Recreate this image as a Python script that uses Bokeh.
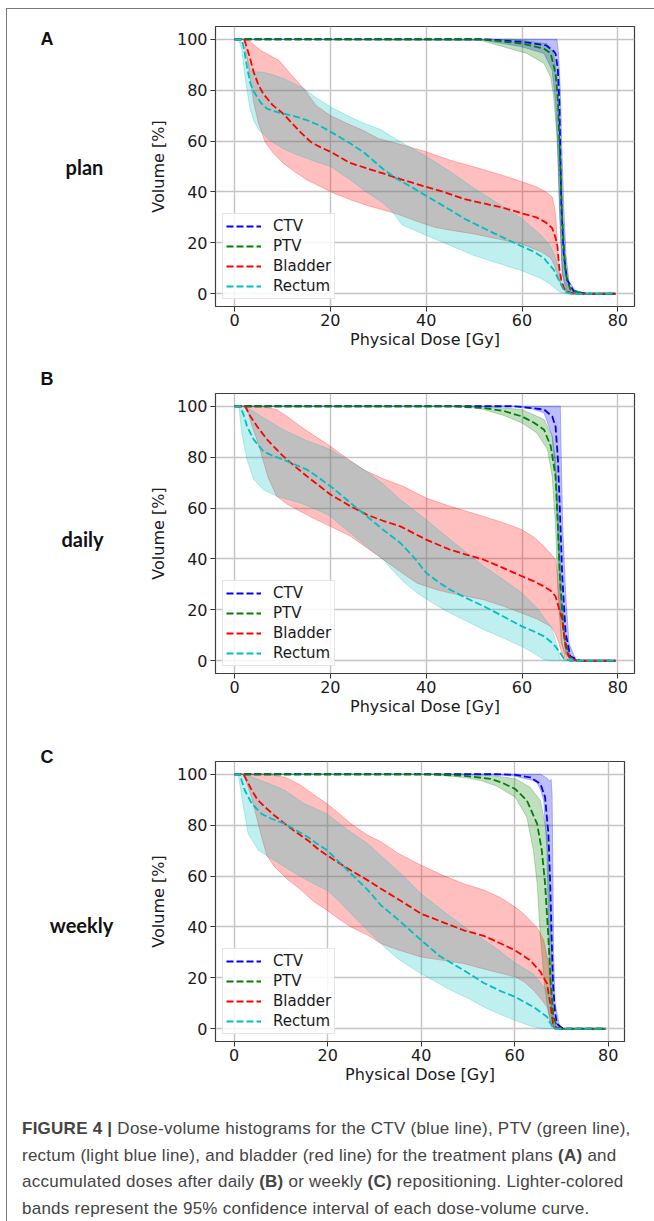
from bokeh.plotting import figure
from bokeh.models import Range1d, FixedTicker, Div
from bokeh.layouts import column, row
from bokeh.core.properties import value
from bokeh.embed import file_html
from bokeh.resources import INLINE

# ---------------- data (dose [Gy], volume [%]) ----------------
X_TICKS = [0, 20, 40, 60, 80]
Y_TICKS = [0, 20, 40, 60, 80, 100]
STRUCTURES = ["CTV", "PTV", "Bladder", "Rectum"]
PANEL_LETTERS = ["A", "B", "C"]
PANEL_NAMES = ["plan", "daily", "weekly"]

# ---- A: plan ----
A_CTV_MEAN = [(0,100),(52,100),(60,99),(65,97.6),(66.5,95.5),(67,94.4),(67.5,87.8),(67.8,74.8),(68,55),(68.2,35.6),(68.7,16),(69.4,5.5),(70.8,1),(73.6,0),(79.5,0)]
A_CTV_HI = [(0,100),(67.3,100),(67.6,95),(68,80),(68.3,58),(68.7,35),(69.2,15),(69.8,5),(71,1.5),(73.5,0),(79.5,0)]
A_CTV_LO = [(0,100),(52,99.6),(60,97),(64.6,94.4),(66.3,87.8),(67,74.8),(67.5,55),(67.9,29),(68.4,8),(69,1.6),(70,0),(79.5,0)]
A_PTV_MEAN = [(0,100),(51.3,100),(60,98.3),(64.6,96.3),(66,94.4),(67,86.5),(67.5,76),(67.8,60),(68.1,45),(68.4,29),(69.1,8),(70.1,1.6),(72.2,0.3),(74,0),(79.5,0)]
A_PTV_HI = [(0,100),(58,100),(60,99.6),(65.2,98.3),(66.6,94.4),(67.3,85),(67.8,65),(68.2,40),(68.7,15),(69.4,4),(70.5,1),(72.5,0),(79.5,0)]
A_PTV_LO = [(0,100),(51.3,99.6),(61,94.4),(64.6,90.5),(66,85),(66.6,77.4),(67.3,61.7),(67.8,35.6),(68.4,8),(69.4,1),(71,0),(79.5,0)]
A_BLA_MEAN = [(0,100),(2,100),(3,94),(4,87),(5,82),(6,78.5),(8,74),(10,71),(12,67),(14,63),(16,59.5),(18,57.5),(20,55.8),(24,51.5),(28,49),(31,47.3),(35,44.8),(40,42),(44,39.8),(48,37.2),(52,35.5),(56,33.8),(60,31.6),(63,30),(65,28),(66.3,25.8),(67,22),(67.4,18.6),(67.8,10),(68.2,5.5),(68.8,2),(69.4,0.9),(70.5,0.2),(72,0),(79.5,0)]
A_BLA_HI = [(0,100),(2.2,100),(3.3,99),(5.4,95.7),(7.5,93.5),(9.2,91.8),(11.6,86.5),(14.4,80.7),(17,74),(20,70),(24,66.5),(27,64),(30,61),(34,59),(40,55.8),(45,52.5),(51,49.3),(56,46.5),(60,44),(63,42),(65,40),(66.3,38),(66.8,34),(67.1,29),(67.4,18),(67.8,8),(68.2,3),(69.4,0),(79.5,0)]
A_BLA_LO = [(0,100),(2,100),(3,88),(4,75),(5,67),(6.4,59.5),(8,55.5),(10.2,51.2),(12.5,48),(15.1,44.7),(17.5,42.5),(20,40.1),(24.2,36.9),(28,34.5),(31.1,32.9),(34,31.3),(38,28.5),(42,26),(45,25),(50,23.5),(55,21.5),(60,19.5),(64,16.5),(66,14),(66.8,11),(67.3,8),(67.8,5),(68.4,2.5),(69.4,0.5),(70,0),(79.5,0)]
A_REC_MEAN = [(0,100),(1.5,100),(2,96),(2.6,89),(3.3,82.6),(4,79.5),(4.7,77.4),(5.5,75),(6.7,72.8),(8,71.8),(10.2,70.8),(13,69.5),(15.1,68.2),(17.5,66.3),(20,63.7),(22,61.5),(24.2,59),(27,55.5),(31,49),(34,45),(37.4,41.4),(40,38.5),(44.4,33.6),(48,29.5),(51.3,26.4),(55,23),(60,18.6),(62.5,16.5),(64.6,14),(65.2,12.5),(66.6,9.5),(67.4,6.5),(68,4.2),(68.7,1.5),(69.4,0.5),(70.5,0),(79.5,0)]
A_REC_HI = [(0,100),(1,100),(2,97),(3.3,88),(4.5,87.2),(6,87),(8,86),(10.2,84.6),(12.5,82.5),(14.4,80.7),(17,77),(20,73.5),(23.5,70),(27,67),(30.5,64.5),(34,60.4),(40,54),(45,48),(50,41.5),(55,35.5),(60,29.5),(64,23),(66,18.5),(66.8,15),(67.7,10),(68.5,4),(69.1,1.5),(70,0),(79.5,0)]
A_REC_LO = [(0,100),(1,99),(1.5,96),(2,88),(2.6,80),(3.2,73),(4,68),(5,64.5),(6,62.7),(7.5,60),(10.2,57),(12.5,55),(15.1,53.2),(17.5,51.5),(20,50),(22,47.5),(24.2,44.7),(27.5,40),(31.1,35.6),(33,32),(35,27),(40,23),(45,19),(50,15),(55,12),(60,9),(62,7.5),(64,6),(66,3.5),(67,2),(68,0.5),(69,0),(79.5,0)]

# ---- B: daily ----
B_CTV_MEAN = [(0,100),(58,100),(60,99.7),(64.6,98.7),(66.3,96),(67,92.1),(67.5,79),(67.9,59.4),(68.4,33.2),(69.1,10.9),(70.1,1.7),(72.2,0),(79.5,0)]
B_CTV_HI = [(0,100),(68,100),(68.2,79),(68.5,52.8),(69.1,26.6),(69.8,7),(71.2,0.4),(72.5,0),(79.5,0)]
B_CTV_LO = [(0,100),(58,100),(62,99),(64.6,97.4),(66.3,88.2),(67,72.5),(67.5,46.3),(68,20),(69.1,3),(70.1,0),(79.5,0)]
B_PTV_MEAN = [(0,100),(45,100),(52,99.3),(56,98.2),(60,96),(62.5,93.5),(64.6,90.8),(66,84.3),(67,72.5),(67.5,52.8),(67.9,33.2),(68.7,10.9),(69.8,1.7),(71.5,0),(79.5,0)]
B_PTV_HI = [(0,100),(52,100),(60,98.7),(64.6,94.8),(66.3,88.2),(67,79),(67.7,52.8),(68.2,26.6),(69.1,7),(70.5,0.4),(72,0),(79.5,0)]
B_PTV_LO = [(0,100),(48.5,100),(52,98.7),(56,96.5),(60,93.4),(63.1,89.5),(65.3,83),(66.3,72.5),(67,52.8),(67.5,26.6),(68.2,7),(69.4,0.4),(70.5,0),(79.5,0)]
B_BLA_MEAN = [(0,100),(2.2,100),(3.3,96),(4.7,92.1),(6.8,86.9),(8.5,83.5),(10.2,80.3),(12.5,76.5),(15.1,72.5),(17.5,69),(20,65.3),(24.2,60.7),(27.6,57.4),(31,55),(34.6,52.8),(40,47.6),(45,43.6),(52,39.7),(56,36.5),(60,33.2),(62.5,31.2),(64.6,29.2),(66,27.5),(67,25.3),(67.8,20),(68.4,16.1),(68.8,10),(69.1,5.6),(69.7,2),(70.5,0.4),(72,0),(79.5,0)]
B_BLA_HI = [(0,100),(5.4,100),(8.8,98.7),(11,96),(13.7,92.1),(17,88),(20,84.3),(23.5,79.5),(27,75),(31,71.5),(35.3,68.5),(40,63.9),(45,60.7),(52,56.7),(56,54.3),(60,51.5),(62.5,48.5),(64.6,44.9),(66,42),(67,39.7),(67.4,34),(67.7,26.6),(68,17),(68.4,7),(69.1,0.4),(70,0),(79.5,0)]
B_BLA_LO = [(0,100),(2.5,100),(3.5,93),(5,85),(7,72),(8.8,64.6),(11,61.5),(13.7,58.7),(17,55.5),(20,52.8),(24.2,48.9),(27.5,44.5),(31.1,39.7),(34.6,35),(38.1,30.5),(42,28),(45,26.6),(52,24),(56,21.5),(60,18.7),(63,16.5),(66,13.5),(67,10.5),(67.7,7),(68.7,0.4),(69.5,0),(79.5,0)]
B_REC_MEAN = [(0,100),(1.2,100),(2,96),(2.6,92.1),(4,86.9),(6,82.3),(8,80.5),(10.2,79),(12.5,77.2),(15.1,75.1),(17.5,72),(20,68.6),(22,65.5),(24.2,62),(27.6,56.8),(31,51.5),(34.6,46.3),(37.5,40.5),(40,34.5),(42.5,31),(45,27.9),(48.5,24.5),(52,21.4),(56,17.5),(60,13.5),(62.5,11.5),(64.6,9.6),(66,7.5),(67,5.6),(68,3),(68.7,1),(70,0),(79.5,0)]
B_REC_HI = [(0,100),(1.5,100),(3.3,98.7),(6,95.5),(10.2,90.8),(15,86.5),(20,83),(24,78.5),(27,75),(31,69.5),(34.6,63.3),(40,55.4),(45,47.6),(52,37.1),(56,32),(60,26.6),(63,21),(66,13.5),(67,8),(68,0.4),(69,0),(79.5,0)]
B_REC_LO = [(0,100),(0.9,100),(1.5,89.5),(2.6,79),(4,71.2),(6,67.2),(8.8,64.6),(11,63.5),(13.7,62),(17,59.5),(20,56.8),(22,53.5),(24.2,50.2),(27.5,45),(31.1,39.7),(33,35.5),(35,31.5),(38.1,26.6),(41.5,22.5),(45,18.7),(48.5,15.5),(52,12.2),(56,9),(60,5.6),(62.5,3),(64.6,0.4),(66,0),(79.5,0)]

# ---- C: weekly ----
C_CTV_MEAN = [(0,100),(56,100),(60,99.8),(63.3,98.8),(65.5,96.2),(66.5,91),(67.2,76.6),(67.6,57),(67.9,36),(68.2,17.8),(68.6,7),(69,2),(70,0.5),(71.1,0),(79.5,0)]
C_CTV_HI = [(0,100),(65.5,100),(66.9,98.5),(67.5,97.2),(67.8,98),(68,92),(68.2,57),(68.3,31),(68.65,10),(69.7,0),(79.5,0)]
C_CTV_LO = [(0,100),(55,100),(59.9,99.3),(64,97.5),(64.8,96.5),(65.5,94),(66.2,89.7),(66.9,70),(67.2,43.8),(67.6,17.8),(68,5),(68.4,0),(79.5,0)]
C_PTV_MEAN = [(0,100),(40,100),(46.3,99.6),(49.1,99.4),(54.8,98.2),(57.5,96.5),(60.1,94.2),(62.6,89.7),(64.8,80.5),(65.8,70),(66.5,57),(67.2,36),(67.7,17.8),(68.3,4.7),(69,1.2),(69.7,0),(79.5,0)]
C_PTV_HI = [(0,100),(50,100),(52.7,99.8),(56,99.3),(60.1,98.2),(63.3,94.9),(65.5,89.7),(66.9,76.6),(67.4,57),(67.9,30.8),(68.3,4.7),(69,0.5),(69.7,0),(79.5,0)]
C_PTV_LO = [(0,100),(42,100),(46,99.3),(50,98.5),(52.7,97.5),(56,95.5),(60.1,91),(62.6,83.1),(64,70.1),(64.8,57),(65.5,36),(66.5,15),(67.6,2),(68.5,0),(79.5,0)]
C_BLA_MEAN = [(0,100),(2,100),(3,96.5),(3.8,93.6),(5,90),(6.6,87.1),(8.5,84),(10.9,80.5),(13,77.5),(15.8,74),(18,70.5),(19.9,68.1),(22.5,65),(25,62.2),(28.6,58.3),(31.4,55),(35,51),(40,45.2),(44,42.3),(49.1,38.7),(53.4,36.5),(57,33.5),(60.1,30.8),(63.3,26.9),(65.5,22.4),(66.9,17.8),(67.6,9.9),(68.2,2.1),(69,0.3),(70,0),(79.5,0)]
C_BLA_HI = [(0,100),(7,100),(10.9,98.8),(14,96),(17,92),(19.9,88.4),(22.5,84.5),(25,80.5),(28.6,76),(31.4,73.5),(35,69),(40,64.2),(45,60),(49.1,57),(53.4,54.5),(57,51.5),(60.1,47.8),(62,45),(64,41.3),(65.2,38.5),(66.2,34.8),(67.2,25.6),(67.6,17.8),(67.9,4.7),(68.4,0),(79.5,0)]
C_BLA_LO = [(0,100),(2,100),(3,95),(4,89),(5.5,78),(7,68),(8.7,63.5),(11.5,58.5),(14.4,54.4),(17,50),(19.9,46.5),(22.5,43),(25,40),(28.6,36.7),(31.4,33.5),(35,31),(40,28.2),(45,26.8),(49.1,25.6),(53.4,23.5),(57,21.8),(60.1,20.4),(62,18.5),(64,15.2),(65.5,12),(66.9,8.6),(67.9,2.1),(68.5,0),(79.5,0)]
C_REC_MEAN = [(0,100),(1.2,100),(2.3,93.6),(3.8,88.4),(5.9,84.4),(8,82.5),(10.9,80.5),(13,78.3),(15.8,75.3),(17.5,73),(19.9,70.1),(22.5,65.5),(25,60.9),(28.6,54.5),(31.4,48.5),(35,43),(40,34.8),(44,28.5),(49.1,23),(53.4,18),(57,14.8),(60.1,12.5),(64,8.6),(66.9,4.7),(68.3,0),(79.5,0)]
C_REC_HI = [(0,100),(2.3,100),(5,98),(8,96),(10.9,93.6),(15,88.5),(19.9,84.4),(24,78.5),(28.6,72.7),(31.4,68),(35.7,60.9),(40,53),(46.3,44),(50,39),(53.4,35),(56.5,31),(60,26),(64,21.5),(66.9,15),(68,9),(68.65,0),(79.5,0)]
C_REC_LO = [(0,100),(0.9,100),(2,87.1),(3,76.6),(5.2,70.1),(8,66.8),(10.9,63.5),(14.4,59.6),(17,57),(19.9,54.4),(22.5,50),(25,45.2),(28.6,38.5),(32.1,32.2),(35,27.5),(39.9,21.7),(46.3,15.2),(50,12),(53.4,8.6),(56.5,6),(59.9,3.4),(62,2),(64,0.8),(65.8,0),(79.5,0)]

CAPTION = ("<b>FIGURE 4 |</b> Dose-volume histograms for the CTV (blue line), PTV (green line),<br>"
           "rectum (light blue line), and bladder (red line) for the treatment plans <b>(A)</b> and<br>"
           "accumulated doses after daily <b>(B)</b> or weekly <b>(C)</b> repositioning. Lighter-colored<br>"
           "bands represent the 95% confidence interval of each dose-volume curve.")

# ---------------- styling ----------------
COLORS = {"CTV": "#0000ff", "PTV": "#008000", "Bladder": "#ff0000", "Rectum": "#00bfbf"}
PANEL_DATA = {
    "A": {"CTV": (A_CTV_MEAN, A_CTV_LO, A_CTV_HI), "PTV": (A_PTV_MEAN, A_PTV_LO, A_PTV_HI),
          "Bladder": (A_BLA_MEAN, A_BLA_LO, A_BLA_HI), "Rectum": (A_REC_MEAN, A_REC_LO, A_REC_HI)},
    "B": {"CTV": (B_CTV_MEAN, B_CTV_LO, B_CTV_HI), "PTV": (B_PTV_MEAN, B_PTV_LO, B_PTV_HI),
          "Bladder": (B_BLA_MEAN, B_BLA_LO, B_BLA_HI), "Rectum": (B_REC_MEAN, B_REC_LO, B_REC_HI)},
    "C": {"CTV": (C_CTV_MEAN, C_CTV_LO, C_CTV_HI), "PTV": (C_PTV_MEAN, C_PTV_LO, C_PTV_HI),
          "Bladder": (C_BLA_MEAN, C_BLA_LO, C_BLA_HI), "Rectum": (C_REC_MEAN, C_REC_LO, C_REC_HI)},
}
LABEL_W = 120
PLOT_W = 527
# frames inside one column share their borders, so panel C is simply narrower
LAYOUT = {
    "A": dict(w=527, h=351, t=17, b=54, l=88, r=20),
    "B": dict(w=527, h=375, t=33, b=62, l=88, r=20),
    "C": dict(w=517, h=365, t=26, b=59, l=88, r=20),
}
# side-label positions (pixels from the top-left of the label strip)
LETTER_POS = {"A": (33, 29), "B": (33, 369), "C": (33, 747)}
NAME_POS = {"plan": (77, 157), "daily": (75, 529), "weekly": (74, 915)}
TXT = "#1a1a1a"


def make_panel(key):
    lay = LAYOUT[key]
    p = figure(width=lay["w"], height=lay["h"], output_backend="svg", toolbar_location=None,
               x_range=Range1d(-3.98, 83.48), y_range=Range1d(-5, 105),
               min_border_top=lay["t"], min_border_bottom=lay["b"],
               min_border_left=lay["l"], min_border_right=lay["r"])
    p.background_fill_color = "white"
    p.border_fill_color = "white"
    p.outline_line_color = "#3c3c3c"
    p.outline_line_width = 1.2
    p.grid.grid_line_color = "#c4c4c4"
    p.grid.grid_line_width = 1.4
    p.xaxis.ticker = FixedTicker(ticks=X_TICKS)
    p.yaxis.ticker = FixedTicker(ticks=Y_TICKS)
    p.xgrid.ticker = FixedTicker(ticks=X_TICKS)
    p.ygrid.ticker = FixedTicker(ticks=Y_TICKS)
    for ax in (p.xaxis[0], p.yaxis[0]):
        ax.axis_line_color = None
        ax.major_tick_line_color = "#333333"
        ax.major_tick_out = 5
        ax.major_tick_in = 0
        ax.minor_tick_line_color = None
        ax.major_label_text_font = "DejaVu Sans"
        ax.major_label_text_font_size = "16px"
        ax.major_label_text_color = TXT
        ax.axis_label_text_font = "DejaVu Sans"
        ax.axis_label_text_font_size = "16px"
        ax.axis_label_text_font_style = "normal"
        ax.axis_label_text_color = TXT
    p.xaxis.axis_label = "Physical Dose [Gy]"
    p.yaxis.axis_label = "Volume [%]"
    p.xaxis.major_label_standoff = 2
    p.xaxis.axis_label_standoff = 1
    p.yaxis.major_label_standoff = 3
    p.yaxis.axis_label_standoff = 6

    data = PANEL_DATA[key]
    for s in STRUCTURES:
        mean, lo, hi = data[s]
        xs = [d for d, _ in hi] + [d for d, _ in reversed(lo)]
        ys = [v for _, v in hi] + [v for _, v in reversed(lo)]
        p.patch(xs, ys, fill_color=COLORS[s], fill_alpha=0.25,
                line_color=COLORS[s], line_alpha=0.25, line_width=1)
    for s in STRUCTURES:
        mean, lo, hi = data[s]
        p.line([d for d, _ in mean], [v for _, v in mean], line_color=COLORS[s],
               line_dash="7 3", line_width=1.8, legend_label=s)

    lg = p.legend[0]
    lg.location = "bottom_left"
    lg.margin = 7
    lg.padding = 3
    lg.spacing = 2
    lg.label_height = 18
    lg.glyph_height = 18
    lg.glyph_width = 35
    lg.label_standoff = 12
    lg.label_text_font = "DejaVu Sans"
    lg.label_text_font_size = "15px"
    lg.label_text_color = TXT
    lg.border_line_color = "#cccccc"
    lg.border_line_width = 1
    lg.background_fill_alpha = 0.85
    return p


def make_label_strip(height):
    s = figure(width=LABEL_W, height=height, output_backend="svg", toolbar_location=None,
               x_range=Range1d(0, LABEL_W), y_range=Range1d(height, 0), min_border=0)
    s.axis.visible = False
    s.grid.visible = False
    s.outline_line_color = None
    s.background_fill_color = "white"
    s.border_fill_color = "white"
    s.text(x=[LETTER_POS[k][0] for k in PANEL_LETTERS], y=[LETTER_POS[k][1] for k in PANEL_LETTERS],
           text=PANEL_LETTERS, text_font=value("Liberation Sans"), text_font_style="bold",
           text_font_size="18px", text_color="#111111", text_align="left",
           text_baseline="alphabetic")
    s.text(x=[NAME_POS[n][0] for n in PANEL_NAMES], y=[NAME_POS[n][1] for n in PANEL_NAMES],
           text=PANEL_NAMES, text_font=value("Lato"), text_font_style="bold",
           text_font_size="20px", text_color="#111111", text_align="center",
           text_baseline="alphabetic")
    return s


panels = [make_panel(k) for k in PANEL_LETTERS]
plots_h = sum(LAYOUT[k]["h"] for k in PANEL_LETTERS)
strip = make_label_strip(plots_h)

caption = Div(
    text=('<div style="font-family:\'Liberation Sans\',Arial,sans-serif;font-size:17px;'
          'letter-spacing:0.25px;line-height:26.5px;color:#444444;padding:11px 0 0 10px;'
          'white-space:nowrap;">' + CAPTION + '</div>'),
    width=LABEL_W + PLOT_W, height=112)

layout = column(row(strip, column(*panels)), caption,
                styles={"border-left": "1px solid #7a7a7a", "border-top": "1px solid #7a7a7a",
                        "margin-left": "6px", "margin-top": "8px"})

open("out.html", "w").write(file_html(layout, INLINE))
